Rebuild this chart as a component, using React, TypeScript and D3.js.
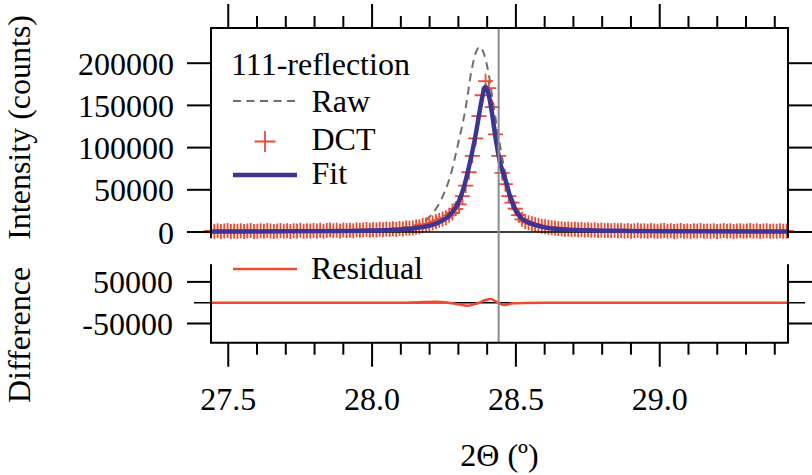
import * as d3 from 'd3';

// DCT-corrected counts, one value per 2-theta step
const dctStart = 27.44;
const dctStep = 0.0115;
const dctCounts = [
  1200, 800, 1500, 600, 1100, 1700, 500, 1300, 900, 1600,
  700, 1200, 1900, 600, 1000, 1400, 800, 1700, 1100, 500,
  1300, 1800, 900, 1400, 700, 1600, 1200, 2000, 900, 1500,
  1100, 1900, 1300, 2200, 1000, 1700, 2300, 1400, 2000, 1200,
  2500, 1800, 2200, 1500, 2700, 2000, 2400, 3000, 2200, 2800,
  2400, 3200, 2700, 3500, 3000, 3800, 3300, 4200, 3700, 4600,
  4400, 5000, 5800, 6300, 7600, 8600, 9600, 10800, 12500, 14000,
  15500, 17000, 19800, 22500, 27500, 32700, 42500, 55000, 70800, 90200,
  111000, 137300, 162000, 178700, 170500, 148000, 115700, 90200, 70000, 56700,
  42500, 34800, 27700, 20000, 15000, 12500, 11100, 9800, 8600, 7600,
  6900, 6300, 5600, 5100, 4700, 4200, 3900, 3300, 3600, 2900,
  3200, 2600, 3000, 2300, 2800, 2100, 2600, 1900, 2400, 1700,
  2200, 1600, 2100, 1400, 1900, 1200, 1800, 1000, 1600, 2000,
  1100, 1500, 900, 1700, 1300, 800, 1500, 1900, 1000, 1400,
  700, 1300, 1800, 900, 1200, 600, 1500, 1100, 1700, 800,
  1300, 1000, 1600, 700, 1200, 1800, 900, 1400, 600, 1100,
  1500, 800, 1300, 1700, 1000, 1400, 700, 1200, 1600, 900,
  1300, 1000, 1500, 800, 1200,
];

const fitTheta = [
  27.44, 27.7, 27.9, 28.0, 28.1, 28.15, 28.2, 28.23, 28.26, 28.28,
  28.3, 28.32, 28.34, 28.36, 28.375, 28.385, 28.394, 28.403, 28.415, 28.43,
  28.445, 28.46, 28.48, 28.5, 28.52, 28.55, 28.6, 28.66, 28.75, 28.9,
  29.1, 29.446,
];
const fitCounts = [
  600, 800, 1200, 1700, 3000, 4500, 7500, 11000, 17000, 24000,
  35000, 54000, 82000, 115000, 145000, 163000, 172000, 166000, 145000, 110000,
  82000, 66000, 42000, 25000, 16000, 10500, 5500, 3200, 2000, 1300,
  900, 600,
];

const rawTheta = [
  27.44, 27.8, 28.0, 28.1, 28.15, 28.175, 28.21, 28.24, 28.275, 28.3,
  28.326, 28.345, 28.36, 28.375, 28.39, 28.405, 28.42, 28.44, 28.46, 28.48,
  28.5, 28.53, 28.58, 28.65, 28.8, 29.0, 29.446,
];
const rawCounts = [
  1000, 1500, 2500, 5000, 8000, 10600, 22000, 38000, 70000, 106000,
  148000, 190000, 212000, 219500, 210000, 188000, 155000, 112000, 75000, 48000,
  30000, 16000, 8000, 4500, 2500, 1500, 1000,
];

const residualTheta = [
  27.44, 28.1, 28.18, 28.22, 28.26, 28.3, 28.332, 28.355, 28.372, 28.395,
  28.413, 28.428, 28.438, 28.459, 28.475, 28.49, 28.53, 28.6, 29.446,
];
const residualCounts = [
  0, 0, 1500, 2500, 500, -4000, -7200, -4000, 0, 6500,
  8900, 4000, 0, -5500, -3500, -1500, -500, 0, 0,
];

const xMajorTicks = [27.5, 28.0, 28.5, 29.0];
const xMinorTicks = [
  27.6, 27.7, 27.8, 27.9, 28.1, 28.2, 28.3, 28.4, 28.6, 28.7, 28.8, 28.9,
  29.1, 29.2, 29.3, 29.4,
];
const topTicks = [0, 50000, 100000, 150000, 200000];
const bottomTicks = [-50000, 50000];
const markerTheta = 28.44;

const FONT = 'Liberation Serif, Tinos, "Times New Roman", Times, "DejaVu Serif", "Noto Serif", FreeSerif, serif';
const RED = '#f04a2e';
const BLUE = '#3c3593';
const GREY = '#6e6e6e';

export default function App() {
  const left = 211;
  const right = 788;
  const topY0 = 28;
  const topY1 = 238;
  const botY0 = 264.3;
  const botY1 = 342.7;

  const x = d3.scaleLinear().domain([27.44, 29.446]).range([left, right]);
  const yTop = d3.scaleLinear().domain([-7100, 241700]).range([topY1, topY0]);
  const yBot = d3.scaleLinear().domain([-96150, 92300]).range([botY1, botY0]);

  const dct = dctCounts.map((v, i) => ({ t: dctStart + i * dctStep, v }));
  const fit = fitTheta.map((t, i) => ({ t, v: fitCounts[i] }));
  const raw = rawTheta.map((t, i) => ({ t, v: rawCounts[i] }));
  const res = residualTheta.map((t, i) => ({ t, v: residualCounts[i] }));

  const lineTop = d3.line<{ t: number; v: number }>()
    .x(d => x(d.t))
    .y(d => yTop(d.v))
    .curve(d3.curveMonotoneX);
  const lineBot = d3.line<{ t: number; v: number }>()
    .x(d => x(d.t))
    .y(d => yBot(d.v))
    .curve(d3.curveMonotoneX);

  const crosses = dct
    .map(d => {
      const cx = x(d.t);
      const cy = yTop(d.v);
      return `M${cx - 7.5},${cy}h15M${cx},${cy - 7.5}v15`;
    })
    .join('');

  const mx = x(markerTheta);

  return (
    <div style={{ position: 'fixed', left: 0, top: 0 }}>
      <svg width={812} height={475} style={{ display: 'block', background: '#fff' }}>
        {/* raw */}
        <path d={lineTop(raw) || ''} fill="none" stroke={GREY} strokeWidth={2} strokeDasharray="8,5.5" />
        {/* DCT crosses */}
        <path d={crosses} fill="none" stroke={RED} strokeWidth={1.8} />
        {/* zero line top */}
        <line x1={187} x2={812} y1={yTop(0)} y2={yTop(0)} stroke="#000" strokeWidth={1.6} />
        {/* fit */}
        <path d={lineTop(fit) || ''} fill="none" stroke={BLUE} strokeWidth={4.5} strokeLinejoin="round" />

        {/* bottom zero + residual */}
        <line x1={194} x2={805} y1={yBot(0)} y2={yBot(0)} stroke="#000" strokeWidth={1.6} />
        <path d={lineBot(res) || ''} fill="none" stroke={RED} strokeWidth={2.5} />

        {/* marker line */}
        <line x1={mx} x2={mx} y1={topY0} y2={botY1} stroke="#8a8a8a" strokeWidth={2} />

        {/* frames */}
        <path d={`M${left},${topY1}V${topY0}H${right}V${topY1}`} fill="none" stroke="#000" strokeWidth={2} />
        <path d={`M${left},${botY0}V${botY1}H${right}V${botY0}`} fill="none" stroke="#000" strokeWidth={2} />

        {/* top x ticks */}
        {xMajorTicks.map(t => (
          <line key={'tM' + t} x1={x(t)} x2={x(t)} y1={topY0} y2={topY0 - 24} stroke="#000" strokeWidth={2} />
        ))}
        {xMinorTicks.map(t => (
          <line key={'tm' + t} x1={x(t)} x2={x(t)} y1={topY0} y2={topY0 - 12} stroke="#000" strokeWidth={2} />
        ))}
        {/* bottom x ticks */}
        {xMajorTicks.map(t => (
          <line key={'bM' + t} x1={x(t)} x2={x(t)} y1={botY1} y2={botY1 + 24} stroke="#000" strokeWidth={2} />
        ))}
        {xMinorTicks.map(t => (
          <line key={'bm' + t} x1={x(t)} x2={x(t)} y1={botY1} y2={botY1 + 12} stroke="#000" strokeWidth={2} />
        ))}

        <g fontFamily={FONT} fill="#000">
          {xMajorTicks.map(t => (
            <text key={'bl' + t} x={x(t)} y={410} textAnchor="middle" fontSize={32}>
              {t.toFixed(1)}
            </text>
          ))}

          {/* top y ticks */}
          {topTicks.map(v => (
            <g key={'ty' + v}>
              <line x1={187} x2={left} y1={yTop(v)} y2={yTop(v)} stroke="#000" strokeWidth={2} />
              <line x1={right} x2={812} y1={yTop(v)} y2={yTop(v)} stroke="#000" strokeWidth={2} />
              <text x={174} y={yTop(v) + 11.5} textAnchor="end" fontSize={32}>{v}</text>
            </g>
          ))}
          {/* bottom y ticks */}
          {bottomTicks.map(v => (
            <g key={'by' + v}>
              <line x1={187} x2={left} y1={yBot(v)} y2={yBot(v)} stroke="#000" strokeWidth={2} />
              <line x1={right} x2={812} y1={yBot(v)} y2={yBot(v)} stroke="#000" strokeWidth={2} />
              <text x={173} y={yBot(v) + 11.5} textAnchor="end" fontSize={32}>{v}</text>
            </g>
          ))}

          {/* axis titles */}
          <text x={499.5} y={466} textAnchor="middle" fontSize={32}>2Θ (º)</text>
          <text transform="translate(30,403) rotate(-90)" textAnchor="start" fontSize={32}>Difference</text>
          <text transform="translate(30,15) rotate(-90)" textAnchor="end" fontSize={32}>Intensity (counts)</text>

          {/* legend */}
          <text x={231} y={75} fontSize={32}>111-reflection</text>
          <line x1={233} x2={297} y1={101} y2={101} stroke={GREY} strokeWidth={2} strokeDasharray="8,5.5" />
          <text x={311.5} y={111.5} fontSize={32}>Raw</text>
          <path d="M254.5,141.5h21M265,131v21" stroke={RED} strokeWidth={1.8} fill="none" />
          <text x={311.5} y={150} fontSize={32}>DCT</text>
          <line x1={233} x2={297} y1={175} y2={175} stroke={BLUE} strokeWidth={4.5} />
          <text x={311.5} y={183.5} fontSize={32}>Fit</text>
          <line x1={233} x2={297} y1={269} y2={269} stroke={RED} strokeWidth={2.5} />
          <text x={311} y={279} fontSize={32}>Residual</text>
        </g>
      </svg>
    </div>
  );
}
